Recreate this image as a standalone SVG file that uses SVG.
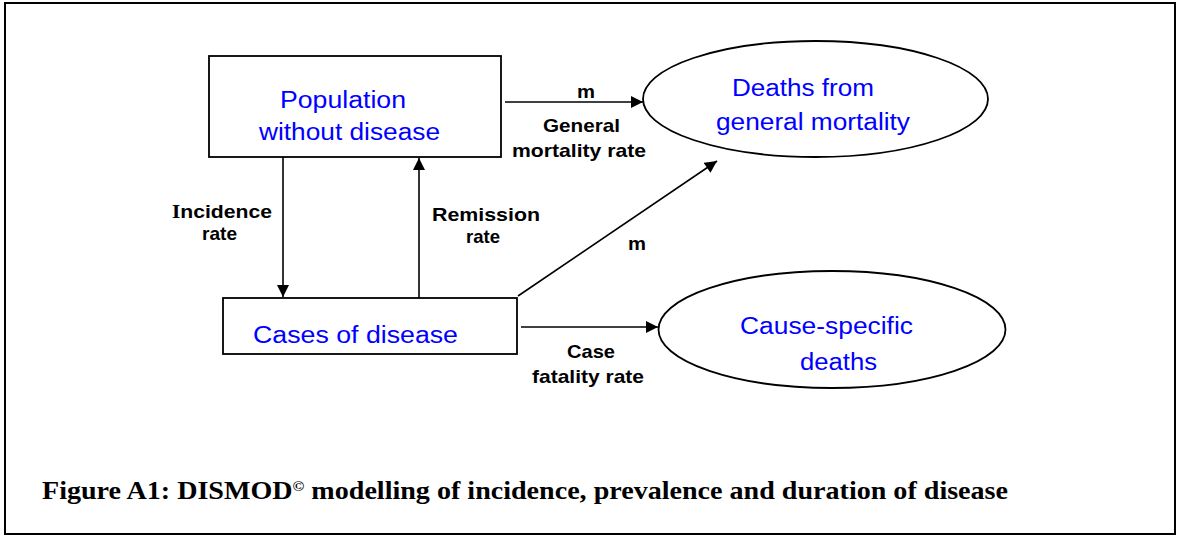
<svg xmlns="http://www.w3.org/2000/svg" width="1177" height="536" viewBox="0 0 1177 536">
<defs>
<style>
.box{fill:#fff;stroke:#000;stroke-width:1.8}
.node{font-family:"Liberation Sans",Arial,sans-serif;font-size:23.5px;fill:#0000ff}
.lbl{font-family:"Liberation Sans",Arial,sans-serif;font-size:18.5px;font-weight:bold;fill:#000}
.edge{stroke:#000;stroke-width:1.6;fill:none;marker-end:url(#ah)}
.cap{font-family:"Liberation Serif","Times New Roman",serif;font-size:25px;font-weight:bold;fill:#000}
</style>
<marker id="ah" viewBox="0 0 12 12" refX="12" refY="6" markerWidth="13" markerHeight="12" markerUnits="userSpaceOnUse" orient="auto">
<path d="M0,0 L12,6 L0,12 z" fill="#000"/>
</marker>
</defs>
<rect x="5" y="3" width="1170" height="531" fill="#fff" stroke="#000" stroke-width="2"/>
<g id="connectors">
<line class="edge" x1="505" y1="102" x2="643" y2="102"/>
<line class="edge" x1="283" y1="157" x2="283" y2="297"/>
<line class="edge" x1="419" y1="298" x2="419" y2="158"/>
<line class="edge" x1="518" y1="296" x2="717" y2="161"/>
<line class="edge" x1="521" y1="327" x2="658" y2="327"/>
<text class="lbl" x="577" y="98" textLength="18" lengthAdjust="spacingAndGlyphs">m</text>
<text class="lbl" x="543" y="132" textLength="77" lengthAdjust="spacingAndGlyphs">General</text>
<text class="lbl" x="512" y="157" textLength="134" lengthAdjust="spacingAndGlyphs">mortality rate</text>
<text class="lbl" x="628" y="250" textLength="18" lengthAdjust="spacingAndGlyphs">m</text>
<text class="lbl" x="172" y="218" textLength="100" lengthAdjust="spacingAndGlyphs"><tspan style="font-family:'Liberation Serif',serif">I</tspan>ncidence</text>
<text class="lbl" x="202" y="240" textLength="35" lengthAdjust="spacingAndGlyphs">rate</text>
<text class="lbl" x="432" y="221" textLength="108" lengthAdjust="spacingAndGlyphs">Remission</text>
<text class="lbl" x="466" y="243" textLength="34" lengthAdjust="spacingAndGlyphs">rate</text>
<text class="lbl" x="567" y="358" textLength="48" lengthAdjust="spacingAndGlyphs">Case</text>
<text class="lbl" x="532" y="383" textLength="112" lengthAdjust="spacingAndGlyphs">fatality rate</text>
</g>
<g id="node-population">
<rect class="box" x="209" y="56" width="292" height="101"/>
<text class="node" x="280" y="108" textLength="126" lengthAdjust="spacingAndGlyphs">Population</text>
<text class="node" x="259" y="140" textLength="181" lengthAdjust="spacingAndGlyphs">without disease</text>
</g>
<g id="node-cases">
<rect class="box" x="223" y="298" width="294" height="56"/>
<text class="node" x="253" y="343" textLength="205" lengthAdjust="spacingAndGlyphs">Cases of disease</text>
</g>
<g id="node-general-deaths">
<ellipse class="box" cx="815.5" cy="99" rx="172.5" ry="58"/>
<text class="node" x="732" y="96" textLength="142" lengthAdjust="spacingAndGlyphs">Deaths from</text>
<text class="node" x="716" y="130" textLength="194" lengthAdjust="spacingAndGlyphs">general mortality</text>
</g>
<g id="node-cause-deaths">
<ellipse class="box" cx="832" cy="329.5" rx="173.5" ry="58.5"/>
<text class="node" x="740" y="334" textLength="173" lengthAdjust="spacingAndGlyphs">Cause-specific</text>
<text class="node" x="800" y="370" textLength="77" lengthAdjust="spacingAndGlyphs">deaths</text>
</g>
<text class="cap" x="42" y="499" textLength="966" lengthAdjust="spacingAndGlyphs">Figure A1: DISMOD<tspan font-size="14" dy="-8">©</tspan><tspan dy="8"> modelling of incidence, prevalence and duration of disease</tspan></text>
</svg>
